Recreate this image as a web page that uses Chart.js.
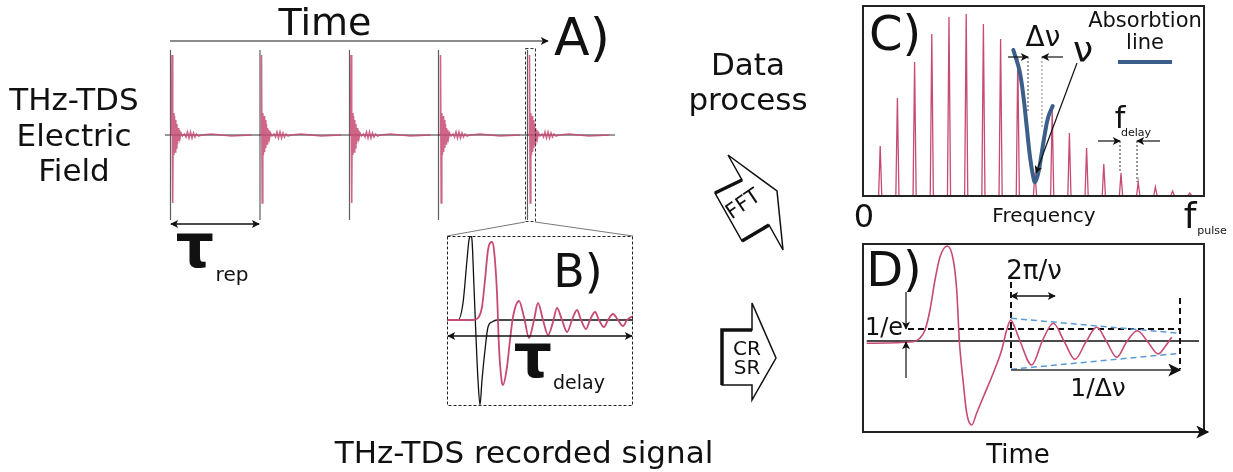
<!DOCTYPE html>
<html>
<head>
<meta charset="utf-8">
<script src="https://cdn.jsdelivr.net/npm/chart.js@4.4.1/dist/chart.umd.min.js"></script>
<style>
  body { margin: 0; width: 1233px; height: 472px; overflow: hidden; position: relative; background: #fff; font-family: "DejaVu Sans", sans-serif; color: #111; }
  .pane { position: absolute; }
  .pane canvas { display: block; }
  .box { position: absolute; border: 2px solid #222; box-sizing: border-box; pointer-events: none; }
  .t { position: absolute; transform: translate(-50%, -50%); line-height: 1; white-space: nowrap; }
  .tau { font-weight: bold; }
  svg { position: absolute; left: 0; top: 0; }
</style>
</head>
<body>

<div class="pane" style="left:160px;top:45px;width:460px;height:180px"><canvas id="chartA" width="460" height="180"></canvas></div>
<div class="pane" style="left:447px;top:236px;width:186px;height:170px"><canvas id="chartB" width="186" height="170"></canvas></div>
<div class="pane" style="left:863px;top:6px;width:341px;height:189px"><canvas id="chartC" width="341" height="189"></canvas></div>
<div class="pane" style="left:862px;top:244px;width:342px;height:188px"><canvas id="chartD" width="342" height="188"></canvas></div>

<div class="box" style="left:862px;top:5px;width:343px;height:192px"></div>
<div class="box" style="left:862px;top:243px;width:343px;height:190px;border-bottom:none"></div>

<svg width="1233" height="472">
  <defs>
    <marker id="ah" viewBox="0 0 10 10" refX="9" refY="5" markerWidth="11" markerHeight="8" markerUnits="userSpaceOnUse" orient="auto-start-reverse">
      <path d="M0,0 L10,5 L0,10 L2.5,5 z" fill="#111"/>
    </marker>
    <marker id="ahBig" viewBox="0 0 10 10" refX="9" refY="5" markerWidth="19" markerHeight="13" markerUnits="userSpaceOnUse" orient="auto-start-reverse">
      <path d="M0,0 L10,5 L0,10 L2.5,5 z" fill="#111"/>
    </marker>
  </defs>

  <!-- A) time axis, tau_rep, zoom window -->
  <line x1="170" y1="41" x2="548" y2="41" stroke="#666" stroke-width="1.5" marker-end="url(#ah)"/>
  <line x1="171" y1="224" x2="259" y2="224" stroke="#111" stroke-width="1.3" marker-start="url(#ah)" marker-end="url(#ah)"/>
  <rect x="525.5" y="48.5" width="10" height="173" fill="none" stroke="#333" stroke-width="1" stroke-dasharray="3,2"/>
  <line x1="447" y1="236" x2="525" y2="222" stroke="#777" stroke-width="1"/>
  <line x1="535" y1="222" x2="633" y2="236" stroke="#777" stroke-width="1"/>

  <!-- B) box and tau_delay -->
  <rect x="447.5" y="236.5" width="185" height="169" fill="none" stroke="#222" stroke-width="1" stroke-dasharray="3,2"/>
  <line x1="448" y1="336" x2="632" y2="336" stroke="#111" stroke-width="1.3" marker-start="url(#ah)" marker-end="url(#ah)"/>

  <!-- FFT and CR/SR block arrows -->
  <polygon points="728,155 777,191 783,250 769,225 742,241 715,193 742,180" fill="#fff" stroke="#111" stroke-width="1.5" stroke-linejoin="miter"/>
  <polyline points="715,193 742,180" stroke="#111" stroke-width="3.5" fill="none"/>
  <polyline points="742,241 769,225" stroke="#111" stroke-width="3.5" fill="none"/>
  <polygon points="752,303 776,358 752,400 752,385 722,385 722,330 752,330" fill="#fff" stroke="#111" stroke-width="1.5"/>
  <polyline points="752,330 722,330 722,385" stroke="#111" stroke-width="3.5" fill="none"/>

  <!-- C) annotations -->
  <line x1="1028" y1="57" x2="1028" y2="113" stroke="#444" stroke-width="1" stroke-dasharray="2,2"/>
  <line x1="1042" y1="57" x2="1042" y2="128" stroke="#888" stroke-width="1" stroke-dasharray="2,2"/>
  <line x1="1008" y1="57" x2="1028" y2="57" stroke="#111" stroke-width="1.2" marker-end="url(#ah)"/>
  <line x1="1063" y1="57" x2="1042" y2="57" stroke="#111" stroke-width="1.2" marker-end="url(#ah)"/>
  <line x1="1077" y1="63" x2="1036" y2="173" stroke="#111" stroke-width="1.2" marker-end="url(#ah)"/>
  <line x1="1118" y1="62" x2="1172" y2="62" stroke="#3b5f8a" stroke-width="4"/>
  <line x1="1120" y1="141" x2="1120" y2="173" stroke="#333" stroke-width="1" stroke-dasharray="2,2"/>
  <line x1="1137" y1="141" x2="1137" y2="182" stroke="#333" stroke-width="1" stroke-dasharray="2,2"/>
  <line x1="1098" y1="141" x2="1120" y2="141" stroke="#111" stroke-width="1.2" marker-end="url(#ah)"/>
  <line x1="1160" y1="141" x2="1137" y2="141" stroke="#111" stroke-width="1.2" marker-end="url(#ah)"/>

  <!-- D) annotations -->
  <line x1="1011" y1="296" x2="1055" y2="296" stroke="#111" stroke-width="1.5" marker-start="url(#ah)" marker-end="url(#ah)"/>
  <line x1="906" y1="292" x2="906" y2="329" stroke="#111" stroke-width="1.2" marker-end="url(#ah)"/>
  <line x1="906" y1="378" x2="906" y2="342" stroke="#111" stroke-width="1.2" marker-end="url(#ah)"/>
  <line x1="1011" y1="370" x2="1180" y2="370" stroke="#333" stroke-width="1.5" marker-end="url(#ahBig)"/>
  <line x1="862" y1="432" x2="1208" y2="432" stroke="#222" stroke-width="2" marker-end="url(#ahBig)"/>
</svg>

<span class="t" style="left:325px;top:22px;font-size:38px">Time</span>
<span class="t" style="left:582px;top:37px;font-size:52px">A)</span>
<span class="t" style="left:74px;top:99px;font-size:31px">THz-TDS</span>
<span class="t" style="left:74px;top:135px;font-size:31px">Electric</span>
<span class="t" style="left:74px;top:170px;font-size:31px">Field</span>
<span class="t" style="left:748px;top:64px;font-size:31px">Data</span>
<span class="t" style="left:748px;top:99px;font-size:31px">process</span>
<span class="t tau" style="left:195px;top:246px;font-size:60px">τ</span>
<span class="t" style="left:232px;top:274px;font-size:20px">rep</span>
<span class="t" style="left:578px;top:271px;font-size:46px">B)</span>
<span class="t tau" style="left:533px;top:356px;font-size:60px">τ</span>
<span class="t" style="left:579px;top:382px;font-size:19px">delay</span>
<span class="t" style="left:524px;top:452px;font-size:31px">THz-TDS recorded signal</span>
<span class="t" style="left:743px;top:204px;font-size:21px;transform:translate(-50%,-50%) rotate(-34deg)">FFT</span>
<span class="t" style="left:747px;top:348px;font-size:20px">CR</span>
<span class="t" style="left:747px;top:367px;font-size:20px">SR</span>
<span class="t" style="left:895px;top:33px;font-size:48px">C)</span>
<span class="t" style="left:1145px;top:20px;font-size:21px">Absorbtion</span>
<span class="t" style="left:1145px;top:42px;font-size:21px">line</span>
<span class="t" style="left:1043px;top:37px;font-size:28px">Δν</span>
<span class="t" style="left:1083px;top:50px;font-size:36px">ν</span>
<span class="t" style="left:1120px;top:118px;font-size:30px">f</span>
<span class="t" style="left:1136px;top:132px;font-size:11px">delay</span>
<span class="t" style="left:864px;top:216px;font-size:32px">0</span>
<span class="t" style="left:1044px;top:215px;font-size:20px">Frequency</span>
<span class="t" style="left:1190px;top:216px;font-size:36px">f</span>
<span class="t" style="left:1212px;top:230px;font-size:11px">pulse</span>
<span class="t" style="left:894px;top:269px;font-size:48px">D)</span>
<span class="t" style="left:1034px;top:270px;font-size:26px">2π/ν</span>
<span class="t" style="left:884px;top:327px;font-size:24px">1/e</span>
<span class="t" style="left:1098px;top:387px;font-size:25px">1/Δν</span>
<span class="t" style="left:1018px;top:454px;font-size:26px">Time</span>

<script>
// A) pulse train (x in px along the time axis, amplitude in px from the baseline)
const pulseTimesA = [171.5, 261, 350.5, 440, 529];
const refTimesA = [170.5, 260, 349.5, 438.5, 527.5];
const pulseShapeDx = [-1, 0, 0.5, 1.2, 1.8, 2.4, 3.0, 3.6, 4.2, 4.8, 5.4, 6.0, 6.6, 7.2, 7.8, 8.5, 9.5, 11, 13, 14.5, 16, 17.5, 19, 20.5, 22, 23.5, 25, 27, 30, 40, 60, 80];
const pulseShapeAmp = [0, 0, 80, -68, 22, -20, 19, -17, 15, -13, 11, -9, 7, -6, 5, -3, 2, -1, 1, -2, 3, -3, 3, -3, 2, -2, 1, -1, 0, 1, -1, 0];
const refTopA = 85;
const refBottomA = -85;

// B) zoom of one pulse: reference (black) and sample (pink)
const refPulseBx = [455, 458, 463, 467, 469, 471, 472, 474, 476, 478, 480, 482, 485, 488, 492, 497, 633];
const refPulseBy = [0, 0, 17, 60, 80, 84, 80, 33, -17, -60, -85, -60, -30, -7, -2, 0, 0];
const samplePulseBx = [447, 473, 478, 482, 485, 488, 492, 494, 497, 499, 502, 503, 507, 510, 513, 519, 524, 529, 534, 538, 543, 548, 553, 557, 562, 567, 572, 577, 581, 586, 590, 595, 599, 604, 608, 613, 618, 623, 627, 633];
const samplePulseBy = [0, 0, 2, 13, 40, 70, 78, 70, 27, -27, -63, -65, -47, -20, 3, 19, 3, -18, 0, 17, 0, -15, -2, 12, 0, -12, 0, 10, 0, -9, 0, 8, 0, -7, 0, 6, 0, -6, 0, 4];

// C) frequency comb with absorption line
const spikeFreqs = [1, 2, 3, 4, 5, 6, 7, 8, 9, 10, 11, 12, 13, 14, 15, 16, 17, 18, 19];
const spikeHeights = [49, 97, 133, 161, 178, 181, 171, 156, 137, 22, 85, 62, 47, 31, 22, 13, 8, 4, 2];
const absorbFreqs = [8.74, 9.09, 9.33, 9.52, 9.71, 9.90, 10.0, 10.19, 10.39, 10.58, 10.77, 11.03];
const absorbLevels = [145, 125, 98, 68, 38, 18, 13, 22, 42, 62, 78, 89];

// D) damped oscillation after the main pulse
const decayTimes = [4.7, 51, 58, 63, 68, 73, 78, 85.3, 91.3, 94.7, 97.3, 101.3, 104.7, 109.7, 114.7, 121.3, 131.3, 139.7, 144.7, 148.7, 153, 158, 169.7, 180.7, 191.3, 202.3, 213, 224, 234.7, 244.7, 254.7, 264.7, 275.3, 285.7, 296.3, 303, 309.7];
const decayValues = [-2.3, -0.7, 3, 11, 31, 61, 84, 95, 81, 51, 1, -42, -72, -84, -72, -56, -32, -9, 11, 21, 13, 0, -24, 1, 17.7, -0.7, -18.3, -0.7, 13.7, -0.7, -16.3, -0.7, 10.3, -0.7, -13, -5.7, 3.7];
const envelopeTimes = [149, 318];
const envelopeUpper = [22.7, 7.7];
const envelopeLower = [-28.3, -12.3];
const baselineD = [4.7, 337];
const oneOverE = { from: 46, to: 318, level: 12 };
const markerLinesD = [{ x: 149, top: 59, bottom: -28 }, { x: 318, top: 43, bottom: -28 }];

const PINK = '#c74a72';
const BLUE = '#3b5f8a';
const LIGHT_BLUE = '#5b9bd5';

function zip(xs, ys) {
    return xs.map((x, i) => ({ x: x, y: ys[i] }));
}

function baseOptions(xmin, xmax, ymin, ymax) {
    return {
        responsive: false,
        animation: false,
        layout: { padding: 0 },
        plugins: { legend: { display: false }, tooltip: { enabled: false } },
        elements: { point: { radius: 0 } },
        scales: {
            x: { type: 'linear', min: xmin, max: xmax, display: false },
            y: { type: 'linear', min: ymin, max: ymax, display: false }
        }
    };
}

// A) build the train from the pulse shape
const pinkA = [];
pulseTimesA.forEach(t => {
    pulseShapeDx.forEach((dx, i) => pinkA.push({ x: t + dx, y: pulseShapeAmp[i] }));
    pinkA.push({ x: t + 81, y: null });
});
const refA = [];
refTimesA.forEach(t => {
    refA.push({ x: t, y: refTopA }, { x: t, y: refBottomA }, { x: t + 0.1, y: null });
});

new Chart(document.getElementById('chartA'), {
    type: 'line',
    data: {
        datasets: [
            { data: pinkA, borderColor: 'rgba(199,74,114,0.85)', borderWidth: 1.6, tension: 0, spanGaps: false, order: 0 },
            { data: refA, borderColor: 'rgba(40,40,40,0.75)', borderWidth: 1.2, spanGaps: false, order: 1 },
            { data: [{ x: 165, y: 0 }, { x: 615, y: 0 }], borderColor: '#333', borderWidth: 1, order: 2 }
        ]
    },
    options: baseOptions(160, 620, -90, 90)
});

new Chart(document.getElementById('chartB'), {
    type: 'line',
    data: {
        datasets: [
            { data: zip(samplePulseBx, samplePulseBy), borderColor: PINK, borderWidth: 1.8, cubicInterpolationMode: 'monotone', order: 0 },
            { data: zip(refPulseBx, refPulseBy), borderColor: '#111', borderWidth: 1.3, cubicInterpolationMode: 'monotone', order: 1 }
        ]
    },
    options: baseOptions(447, 633, -86, 84)
});

// C) each comb tooth is a narrow triangle
const spikes = [];
spikeFreqs.forEach((f, i) => {
    spikes.push({ x: f - 0.09, y: 0 }, { x: f, y: spikeHeights[i] }, { x: f + 0.09, y: 0 }, { x: f + 0.1, y: null });
});

new Chart(document.getElementById('chartC'), {
    type: 'line',
    data: {
        datasets: [
            { data: zip(absorbFreqs, absorbLevels), borderColor: BLUE, borderWidth: 4, tension: 0.4, borderCapStyle: 'round', order: 0 },
            { data: spikes, borderColor: PINK, borderWidth: 1.3, spanGaps: false, order: 1 }
        ]
    },
    options: baseOptions(0, 341 / 17.2, 0, 189)
});

const dashedD = [
    { x: oneOverE.from, y: oneOverE.level }, { x: oneOverE.to, y: oneOverE.level }, { x: oneOverE.to, y: null }
];
markerLinesD.forEach(m => {
    dashedD.push({ x: m.x, y: m.top }, { x: m.x, y: m.bottom }, { x: m.x, y: null });
});

new Chart(document.getElementById('chartD'), {
    type: 'line',
    data: {
        datasets: [
            { data: zip(decayTimes, decayValues), borderColor: PINK, borderWidth: 1.6, cubicInterpolationMode: 'monotone', order: 0 },
            { data: zip(envelopeTimes, envelopeUpper), borderColor: LIGHT_BLUE, borderWidth: 1.5, borderDash: [6, 4], order: 1 },
            { data: zip(envelopeTimes, envelopeLower), borderColor: LIGHT_BLUE, borderWidth: 1.5, borderDash: [6, 4], order: 1 },
            { data: dashedD, borderColor: '#111', borderWidth: 2, borderDash: [6, 4], spanGaps: false, order: 2 },
            { data: baselineD.map(x => ({ x: x, y: 0 })), borderColor: '#111', borderWidth: 1.5, order: 3 }
        ]
    },
    options: baseOptions(0, 342, -91, 97)
});
</script>
</body>
</html>
